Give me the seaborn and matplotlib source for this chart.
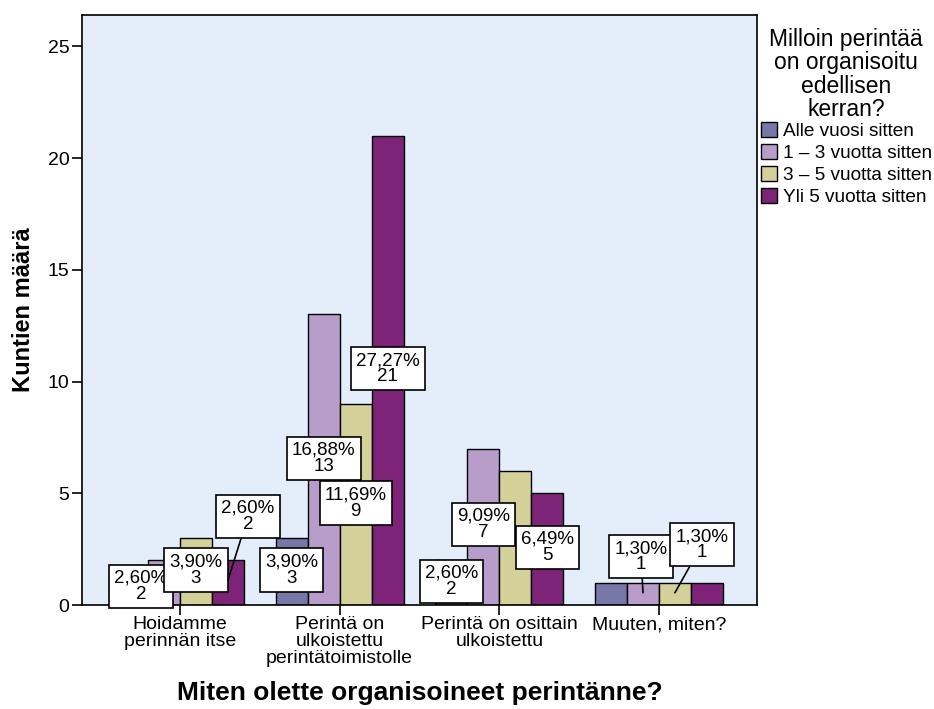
import matplotlib
matplotlib.use("Agg")
import matplotlib.pyplot as plt
import seaborn as sns
import pandas as pd

categories = ["Hoidamme\nperinnän itse",
              "Perintä on\nulkoistettu\nperintätoimistolle",
              "Perintä on osittain\nulkoistettu",
              "Muuten, miten?"]
series = ["Alle vuosi sitten", "1 \u2013 3 vuotta sitten",
          "3 \u2013 5 vuotta sitten", "Yli 5 vuotta sitten"]
alle = [0, 3, 2, 1]
v1_3 = [2, 13, 7, 1]
v3_5 = [3, 9, 6, 1]
yli5 = [2, 21, 5, 1]
total = 77
yticks = [0, 5, 10, 15, 20, 25]

colors = ["#7878A8", "#B89CCA", "#D4D09A", "#7D2479"]

rows = []
for s, vals in zip(series, [alle, v1_3, v3_5, yli5]):
    for c, v in zip(categories, vals):
        rows.append({"cat": c, "series": s, "n": v})
df = pd.DataFrame(rows)

sns.set_style("white")
plt.rcParams["font.family"] = ["Liberation Sans", "DejaVu Sans"]
plt.rcParams["text.color"] = "black"
plt.rcParams["axes.labelcolor"] = "black"
plt.rcParams["xtick.color"] = "black"
plt.rcParams["ytick.color"] = "black"

fig = plt.figure(figsize=(9.34, 7.09), dpi=100)
ax = fig.add_axes([82/934, 1-605/709, (757-82)/934, (605-15)/709])
ax.set_facecolor("#E3EEFA")

sns.barplot(data=df, x="cat", y="n", hue="series", order=categories,
            hue_order=series, palette=colors, width=0.8, edgecolor="black",
            linewidth=1.0, saturation=1, ax=ax, legend=True)

ax.set_xlim(-0.614, 3.614)
ax.set_ylim(0, 26.4)
ax.set_yticks(yticks)
ax.tick_params(axis="both", labelsize=14, length=7, width=1.2, color="black",
               direction="out", left=True, bottom=True, labelcolor="black")
ax.tick_params(axis="x", pad=1)
ax.tick_params(axis="y", pad=2)
for lbl in ax.get_xticklabels():
    lbl.set_linespacing(1.0)
for sp in ax.spines.values():
    sp.set_color("black")
    sp.set_linewidth(1.2)

ax.set_ylabel("Kuntien määrä", fontsize=17, fontweight="bold", labelpad=9)
ax.set_xlabel("Miten olette organisoineet perintänne?", fontsize=19,
              fontweight="bold", labelpad=10)

# value labels: (group idx, series idx, dx px, dy px, leader)
label_spec = [
    (0, 1, -23, -26, False),
    (0, 2, 0, -32, False),
    (0, 3, 20, 64, True),
    (1, 0, 0, -32, False),
    (1, 1, 0, -144, False),
    (1, 2, 0, -99, False),
    (1, 3, 0, -233, False),
    (2, 0, 0, -21, False),
    (2, 1, 0, -76, False),
    (2, 3, 0, -54, False),
    (3, 1, -2, 36, True),
    (3, 2, 27, 48, True),
]
values = [alle, v1_3, v3_5, yli5]
bars_by_series = [c.patches for c in ax.containers]
for g, s, dx, dy, leader in label_spec:
    v = values[s][g]
    p = bars_by_series[s][g]
    bx = p.get_x() + p.get_width() / 2
    by = v * 0.55 if leader else v
    pct = f"{100 * v / total:.2f}".replace(".", ",") + "%"
    ax.annotate(f"{pct}\n{v}", xy=(bx, by), xytext=(dx, dy),
                textcoords="offset pixels", ha="center", va="center",
                fontsize=13.5, linespacing=0.95, zorder=5,
                bbox=dict(boxstyle="square,pad=0.27", fc="white",
                          ec="black", lw=1.2),
                arrowprops=(dict(arrowstyle="-", color="black", lw=1.2,
                                 shrinkA=0, shrinkB=0) if leader else None))

leg = ax.legend(title="Milloin perintää\non organisoitu\nedellisen\nkerran?",
                loc="upper left", bbox_to_anchor=(757/934, 1-24/709),
                bbox_transform=fig.transFigure, frameon=False,
                fontsize=13.7, title_fontsize=16.5, handlelength=0.85,
                handleheight=0.85, handletextpad=0.3, labelspacing=0.2,
                borderaxespad=0, borderpad=0.2)
leg.get_title().set_multialignment("center")
leg.get_title().set_linespacing(1.02)
leg._legend_box.sep = 1
for h in leg.legend_handles:
    h.set_edgecolor("black")
    h.set_linewidth(1.0)

fig.savefig("out.png", dpi=100)
